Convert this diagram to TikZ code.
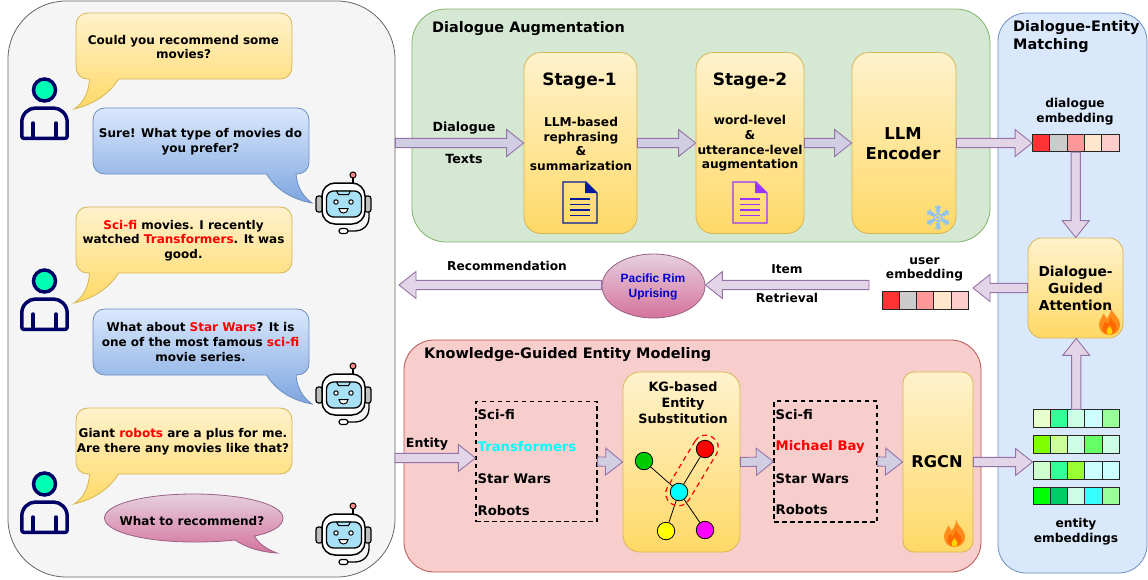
\documentclass[tikz,border=0pt]{standalone}
\usepackage{fontspec}
\setmainfont{DejaVu Sans}
\newfontfamily\liberation{Liberation Sans}
\usetikzlibrary{calc,shapes.geometric}
\definecolor{yTop}{HTML}{FFF2CC}\definecolor{yBot}{HTML}{FFD966}\definecolor{yLine}{HTML}{D6B656}
\definecolor{bTop}{HTML}{DAE8FC}\definecolor{bBot}{HTML}{7EA6E0}\definecolor{bLine}{HTML}{6C8EBF}
\definecolor{pTop}{HTML}{E6D0DE}\definecolor{pBot}{HTML}{D5739D}\definecolor{pLine}{HTML}{996185}
\definecolor{grFill}{HTML}{D5E8D4}\definecolor{grLine}{HTML}{82B366}
\definecolor{rdFill}{HTML}{F8CECC}\definecolor{rdLine}{HTML}{B85450}
\definecolor{chFill}{HTML}{F5F5F5}\definecolor{chLine}{HTML}{666666}
\definecolor{arA}{HTML}{E1D5E7}\definecolor{arB}{HTML}{D0CEE2}\definecolor{arLine}{HTML}{9673A6}
\definecolor{navy}{HTML}{000066}\definecolor{mint}{HTML}{00FFB3}
\definecolor{docBlue}{HTML}{001A99}\definecolor{docPurple}{HTML}{9933FF}
\definecolor{snow}{HTML}{8FC3F2}\definecolor{faceC}{HTML}{A8E0F5}
\definecolor{pureRed}{HTML}{FF0000}\definecolor{pureCyan}{HTML}{00FFFF}\definecolor{pureGreen}{HTML}{00CC00}
\definecolor{pureYellow}{HTML}{FFFF00}\definecolor{pureMagenta}{HTML}{FF00FF}\definecolor{pureBlue}{HTML}{0000CC}
\definecolor{flameA}{HTML}{FF8C1A}\definecolor{flameB}{HTML}{FF6A00}\definecolor{flameC}{HTML}{FFD500}
\tikzset{
  panel/.style={draw,line width=0.8pt,inner sep=0pt},
  gradbox/.style={draw=yLine,top color=yTop,bottom color=yBot,line width=0.8pt,inner sep=0pt},
  yellowb/.style={draw=yLine,top color=yTop,bottom color=yBot,line width=0.8pt},
  blueb/.style={draw=bLine,top color=bTop,bottom color=bBot,line width=0.8pt},
  pinkb/.style={draw=pLine,top color=pTop,bottom color=pBot,line width=0.8pt},
  arrowA/.style={draw=arLine,fill=arA,line width=0.9pt},
  arrowB/.style={draw=arLine,fill=arB,line width=0.9pt},
  chat/.style={font=\fontsize{12}{14.7}\selectfont\bfseries,align=center,inner sep=0pt},
  lab/.style={font=\fontsize{12.2}{14.7}\selectfont\bfseries,align=center,inner sep=0pt},
  ttl/.style={font=\fontsize{14.45}{18}\selectfont\bfseries,align=left,anchor=west,inner sep=0pt},
  big/.style={font=\fontsize{16.8}{20}\selectfont\bfseries,align=center,inner sep=0pt},
  ent/.style={font=\fontsize{13.2}{15}\selectfont\bfseries,anchor=west,inner sep=0pt},
  cell/.style={draw=black!85,line width=0.9pt,minimum width=17.3pt,minimum height=17.3pt,inner sep=0pt},
  gnode/.style={circle,draw=black,line width=0.8pt,minimum size=17.5pt,inner sep=0pt},
  gedge/.style={draw=black,line width=0.8pt},
  dashbox/.style={draw=black,line width=1.3pt,dash pattern=on 4.5pt off 3.5pt,inner sep=0pt},
  pics/personpic/.style={code={
    \draw[navy,line width=3.5pt,fill=mint] (0,0) circle[radius=11pt];
    \draw[navy,line width=3.5pt,line join=round] (-20.7,48.3) -- (20.7,48.3) .. controls (22,48.3) and (22.7,47.5) .. (22.7,46) -- (22.7,32) .. controls (22.7,24) and (16,18) .. (9,18) -- (-9,18) .. controls (-16,18) and (-22.7,24) .. (-22.7,32) -- (-22.7,46) .. controls (-22.7,47.5) and (-22,48.3) .. (-20.7,48.3) -- cycle;
    \draw[navy,line width=3.5pt,line cap=round] (-11.5,33) -- (-11.5,48) (11.5,33) -- (11.5,48);
  }},
  pics/robotpic/.style={code={
    \draw[black,line width=1.2pt,fill=black!25,rounded corners=2.5pt] (-27.5,-7) rectangle (-21,9);
    \draw[black,line width=1.2pt,fill=black!25,rounded corners=2.5pt] (21,-7) rectangle (27.5,9);
    \draw[black,line width=1.3pt] (9.5,-20) -- (9.5,-28);
    \draw[black,line width=1pt,fill=pureRed!45] (9.5,-28) circle[radius=3pt];
    \draw[black,line width=1.5pt,fill=white,rounded corners=13pt] (-21.5,-20) rectangle (21.5,21);
    \draw[black,line width=1.3pt,fill=faceC,rounded corners=7pt] (-17,-12) rectangle (18,14);
    \draw[black,line width=1pt,fill=faceC] (-7,-12) -- (7,-12) -- (5,-8.5) -- (-5,-8.5) -- cycle;
    \draw[black,line width=1pt,fill=white] (-7.5,-1) circle[radius=2.2pt] (7.5,-1) circle[radius=2.2pt];
    \draw[black,line width=1pt,fill=white] (-4.5,5.5) -- (4.5,5.5) .. controls (4.5,11.5) and (-4.5,11.5) .. (-4.5,5.5) -- cycle;
    \draw[black,line width=1.3pt] (25.5,9) -- (25.5,14) .. controls (25.5,23) and (19,28) .. (11,28) -- (4.5,28);
    \draw[black,line width=1.2pt,fill=white,rounded corners=2.5pt] (-4.5,25.5) rectangle (4.5,30.5);
  }},
  pics/docpic/.style={code={
    \draw[#1,line width=1.4pt,line join=miter] (0,0) -- (23,0) -- (34,11) -- (34,41) -- (0,41) -- cycle;
    \fill[#1] (22,0) -- (34,11) -- (22,11) -- cycle;
    \foreach \yy in {17,22.5,28,33.5} {\draw[#1,line width=1.5pt] (7.3,\yy) -- (27,\yy);}
  }},
  pics/flamepic/.style={code={
    \fill[flameA] (1.5,-14) .. controls (2,-8) and (10.5,-5) .. (10.5,4) .. controls (10.5,10) and (5,13.5) .. (0,13.5) .. controls (-6,13.5) and (-10.5,9.5) .. (-10.5,3) .. controls (-10.5,-2) and (-7,-4) .. (-6,-8) .. controls (-4.5,-6) and (-3.5,-4.5) .. (-3,-2.5) .. controls (-0.5,-6) and (2,-10) .. (1.5,-14) -- cycle;
    \fill[flameB] (1,-4) .. controls (2,-1) and (7,1) .. (7,6) .. controls (7,10.5) and (3,13) .. (0,13) .. controls (-4,13) and (-7,10) .. (-7,6) .. controls (-7,3) and (-5,2) .. (-4,0) .. controls (-3,1) and (-2.5,2) .. (-2,3) .. controls (-1,1) and (0.5,-1) .. (1,-4) -- cycle;
    \fill[flameC] (0,4.5) .. controls (1,6.5) and (3,8) .. (3,10) .. controls (3,12) and (1.5,13) .. (0,13) .. controls (-1.5,13) and (-3,12) .. (-3,10) .. controls (-3,8) and (-1,6.5) .. (0,4.5) -- cycle;
  }},
  pics/snowpic/.style={code={
    \foreach \aa in {30,90,...,330} {
      \begin{scope}[rotate=\aa]
        \draw[snow,line width=2pt] (4,0) -- (12.5,0);
        \draw[snow,line width=1.5pt] (8,0) -- (11,2.8) (8,0) -- (11,-2.8) (5.5,0) -- (7.5,2) (5.5,0) -- (7.5,-2);
      \end{scope}
    }
    \draw[snow,line width=1.5pt] (0,0) circle[radius=4pt];
    \draw[snow,line width=1pt] (0,0) circle[radius=1.6pt];
  }},
}
% block arrow between two named points
\newcommand{\barrow}[3]{%
  \coordinate (bafrom) at (#2);
  \coordinate (bato) at (#3);
  \coordinate (baneck) at ($(bato)!17pt!(bafrom)$);
  \path[#1] ($(bafrom)!4.6pt!90:(bato)$) -- ($(baneck)!4.6pt!90:(bato)$) -- ($(baneck)!13.5pt!90:(bato)$) -- (bato) -- ($(baneck)!13.5pt!-90:(bato)$) -- ($(baneck)!4.6pt!-90:(bato)$) -- ($(bafrom)!4.6pt!-90:(bato)$) -- cycle;}
% yellow bubble: top y
\newcommand{\ybubble}[1]{%
  \begin{scope}[shift={(0,#1)}]
  \path[yellowb] (88,0) -- (280,0) .. controls (287,0) and (292,5) .. (292,12) -- (292,54) .. controls (292,61) and (287,66) .. (280,66) -- (118.5,66) .. controls (110,80) and (95,91) .. (74,96) .. controls (84,90) and (89,78) .. (89.5,66) -- (88,66) .. controls (81,66) and (76,61) .. (76,54) -- (76,12) .. controls (76,5) and (81,0) .. (88,0) -- cycle;
  \end{scope}}
\newcommand{\bbubble}[1]{%
  \begin{scope}[shift={(0,#1)}]
  \path[blueb] (105,0) -- (297,0) .. controls (304,0) and (309,5) .. (309,12) -- (309,54) .. controls (309,61) and (304,66) .. (297,66) -- (296,66) .. controls (297,78) and (302,88) .. (312,95) .. controls (290,91) and (275,80) .. (266.5,66) -- (105,66) .. controls (98,66) and (93,61) .. (93,54) -- (93,12) .. controls (93,5) and (98,0) .. (105,0) -- cycle;
  \end{scope}}
\newcommand{\emstrip}[8]{% name, x-left, y-center, c1..c5
  \node[cell,fill=#4] (#1a) at (#2+8.65,#3) {};
  \node[cell,fill=#5] (#1b) at (#2+25.95,#3) {};
  \node[cell,fill=#6] (#1c) at (#2+43.25,#3) {};
  \node[cell,fill=#7] (#1d) at (#2+60.55,#3) {};
  \node[cell,fill=#8] (#1e) at (#2+77.85,#3) {};}
\definecolor{e1}{HTML}{FF3333}\definecolor{e2}{HTML}{CCCCCC}\definecolor{e3}{HTML}{FF9999}\definecolor{e4}{HTML}{FFE6CC}\definecolor{e5}{HTML}{FFCCCC}
\definecolor{g1}{HTML}{E6FFCC}\definecolor{g2}{HTML}{33FF99}\definecolor{g3}{HTML}{CCFFE6}\definecolor{g4}{HTML}{CCFFFF}\definecolor{g5}{HTML}{99FF99}
\definecolor{g6}{HTML}{80FF00}\definecolor{g7}{HTML}{CCFF99}\definecolor{g8}{HTML}{66FF66}\definecolor{g9}{HTML}{CCFFCC}\definecolor{g10}{HTML}{99FF33}
\definecolor{g11}{HTML}{00FF00}\definecolor{g12}{HTML}{00CC66}\definecolor{g13}{HTML}{33FFFF}
\begin{document}
\begin{tikzpicture}[x=1pt,y=-1pt]
\path[use as bounding box,fill=white] (0,0) rectangle (1148,579);
% panels
\node[panel,draw=chLine,fill=chFill,rounded corners=58pt,minimum width=387pt,minimum height=576pt] (chatp) at (201.5,289) {};
\node[panel,draw=grLine,fill=grFill,rounded corners=34pt,minimum width=578pt,minimum height=233pt] (augp) at (701,125.5) {};
\node[panel,draw=bLine,fill=bTop,rounded corners=28pt,minimum width=149pt,minimum height=560pt] (matchp) at (1072.5,293) {};
\node[panel,draw=rdLine,fill=rdFill,rounded corners=30pt,minimum width=577pt,minimum height=232pt] (kgp) at (692.5,456) {};
% boxes
\node[gradbox,rounded corners=17pt,minimum width=113pt,minimum height=181pt] (st1) at (580.5,143) {};
\node[gradbox,rounded corners=17pt,minimum width=108pt,minimum height=181pt] (st2) at (750,143) {};
\node[gradbox,rounded corners=17pt,minimum width=104pt,minimum height=181pt] (enc) at (904,143) {};
\node[gradbox,rounded corners=14pt,minimum width=95pt,minimum height=100pt] (dga) at (1075.5,288) {};
\node[gradbox,rounded corners=17pt,minimum width=117pt,minimum height=180pt] (kgs) at (681.5,462) {};
\node[gradbox,rounded corners=11pt,minimum width=70pt,minimum height=180pt] (rgcn) at (938,462) {};
\node[dashbox,minimum width=121pt,minimum height=120pt] (box1) at (536.5,461.5) {};
\node[dashbox,minimum width=103pt,minimum height=121pt] (box2) at (825.5,461.5) {};
% ellipse
\node[pinkb,shape=ellipse,minimum width=103pt,minimum height=64pt,inner sep=0pt] (item) at (653.5,286) {};
% embeddings
\emstrip{de}{1032.5}{143}{e1}{e2}{e3}{e4}{e5}
\emstrip{ue}{882}{300.5}{e1}{e2}{e3}{e4}{e5}
\emstrip{ra}{1033}{418.5}{g1}{g2}{g3}{g4}{g5}
\emstrip{rb}{1033}{444.5}{g6}{g7}{g3}{g8}{g3}
\emstrip{rc}{1033}{470.5}{g9}{g2}{g10}{g4}{g4}
\emstrip{rd}{1033}{496}{g11}{g12}{g3}{g13}{g5}
% free arrow ends
\coordinate (dlgstart) at (chatp.east |- st1.west);
\coordinate (entstart) at (395,458);
\coordinate (itemstart) at (869,285);
\coordinate (itemtip) at (item.east);
\coordinate (usertip) at (973,288);
\coordinate (rectip) at (399,285);
% arrows
\barrow{arrowB}{dlgstart}{st1.west}
\barrow{arrowB}{st1.east}{st2.west}
\barrow{arrowB}{st2.east}{enc.west}
\barrow{arrowA}{enc.east}{dea.west}
\barrow{arrowA}{dec.south}{dga.north -| dec.south}
\barrow{arrowA}{dga.west}{usertip}
\barrow{arrowA}{itemstart}{itemtip |- itemstart}
\barrow{arrowA}{item.west |- itemstart}{rectip}
\barrow{arrowA}{entstart}{box1.west |- entstart}
\barrow{arrowB}{box1.east}{kgs.west}
\barrow{arrowB}{kgs.east}{box2.west}
\barrow{arrowB}{box2.east}{rgcn.west}
\barrow{arrowA}{rgcn.east}{rca.west |- rgcn.east}
\barrow{arrowA}{rac.north}{dga.south -| rac.north}
% bubbles
\ybubble{13}
\bbubble{108}
\ybubble{207}
\bbubble{309}
\ybubble{408}
\path[pinkb] (104.5,518) .. controls (104.5,504) and (145,494) .. (193.5,494) .. controls (242,494) and (283,504) .. (283,518) .. controls (283,527) and (270,533) .. (254.5,536) .. controls (258,543) and (266,549) .. (277,553) .. controls (260,552) and (245,547) .. (235,540) .. controls (222,541.5) and (208,542) .. (193.5,542) .. controls (145,542) and (104.5,532) .. (104.5,518) -- cycle;
% chat text
\node[chat] (c1) at (183.5,47) {Could you recommend some\\movies?};
\node[chat] (c2) at (200.5,141.5) {Sure! What type of movies do\\you prefer?};
\node[chat] (c3) at (183.5,240.5) {\textcolor{pureRed}{Sci-fi} movies. I recently\\watched \textcolor{pureRed}{Transformers}. It was\\good.};
\node[chat] (c4) at (200.5,342) {What about \textcolor{pureRed}{Star Wars}? It is\\one of the most famous \textcolor{pureRed}{sci-fi}\\movie series.};
\node[chat] (c5) at (183,441.5) {Giant \textcolor{pureRed}{robots} are a plus for me.\\Are there any movies like that?};
\node[chat] (c6) at (192,521) {What to recommend?};
% people and robots
\pic at (44.5,90) {personpic};
\pic at (44.5,281) {personpic};
\pic at (44.5,484) {personpic};
\pic at (343.5,203) {robotpic};
\pic at (343.5,394) {robotpic};
\pic at (343.5,534) {robotpic};
% titles
\node[ttl] (t1) at (432,28.5) {Dialogue Augmentation};
\node[ttl] (t2) at (424,354.5) {Knowledge-Guided Entity Modeling};
\node[ttl] (t3) at (1013,36.5) {Dialogue-Entity\\Matching};
% labels
\node[lab,font=\fontsize{12.6}{15}\selectfont\bfseries] (l1) at (464,128) {Dialogue};
\node[lab,font=\fontsize{12.6}{15}\selectfont\bfseries] (l2) at (464,158.5) {Texts};
\node[big,font=\fontsize{17}{20}\selectfont\bfseries] (l3) at (579.5,81.5) {Stage-1};
\node[big,font=\fontsize{17}{20}\selectfont\bfseries] (l4) at (750,81.5) {Stage-2};
\node[lab] (l5) at (581,144) {LLM-based\\rephrasing\\\&\\summarization};
\node[lab] (l6) at (750,143.5) {word-level\\\&\\utterance-level\\augmentation};
\node[big,font=\fontsize{16.4}{20}\selectfont\bfseries] (l7) at (903,144) {LLM\\Encoder};
\node[lab] (l8) at (1075,111.5) {dialogue\\embedding};
\node[lab,font=\fontsize{13.7}{17}\selectfont\bfseries] (l9) at (1075.5,288.5) {Dialogue-\\Guided\\Attention};
\node[lab] (l10) at (924.5,269.5) {user\\embedding};
\node[lab] (l11) at (507,266) {Recommendation};
\node[lab] (l12) at (787,269.5) {Item};
\node[lab] (l13) at (787,298) {Retrieval};
\node[lab,text=pureBlue,font=\fontsize{12}{15}\selectfont\liberation\bfseries] (l14) at (653,287) {Pacific Rim\\Uprising};
\node[lab,font=\fontsize{12.6}{15}\selectfont\bfseries] (l15) at (427,444) {Entity};
\node[lab,font=\fontsize{12.8}{16}\selectfont\bfseries] (l16) at (683,402.5) {KG-based\\Entity\\Substitution};
\node[big,font=\fontsize{16.2}{20}\selectfont\bfseries] (l17) at (937,461.5) {RGCN};
\node[lab] (l18) at (1076,531.5) {entity\\embeddings};
% entity lists
\node[ent] (a1) at (477.5,414.5) {Sci-fi};
\node[ent,text=pureCyan] (a2) at (477.5,446.5) {Transformers};
\node[ent] (a3) at (477.5,478.5) {Star Wars};
\node[ent] (a4) at (477.5,510.5) {Robots};
\node[ent] (b1) at (775.5,414.5) {Sci-fi};
\node[ent,text=pureRed] (b2) at (775.5,447) {Michael Bay};
\node[ent] (b3) at (775.5,478.5) {Star Wars};
\node[ent] (b4) at (775.5,510) {Robots};
% graph
\coordinate (gm) at (692,470.5);
\node[gnode,fill=pureGreen] (ng) at (644,461) {};
\node[gnode,fill=pureRed] (nr) at (705,449) {};
\node[gnode,fill=pureCyan] (nc) at (679,492) {};
\node[gnode,fill=pureYellow] (ny) at (666,531) {};
\node[gnode,fill=pureMagenta] (nm) at (705,530) {};
\draw[gedge] (ng) -- (nc);
\draw[gedge] (nr) -- (nc);
\draw[gedge] (ny) -- (nc);
\draw[gedge] (nm) -- (nc);
\node[draw=pureRed,line width=1.2pt,dash pattern=on 5pt off 4pt,rounded corners=12pt,minimum width=78pt,minimum height=25pt,inner sep=0pt,rotate=59] (sel) at (gm) {};
% icons
\pic at (563,182) {docpic=docBlue};
\pic at (733,182) {docpic=docPurple};
\pic at (938,217.5) {snowpic};
\pic at (1109.5,321.5) {flamepic};
\pic at (954.5,533.5) {flamepic};
\end{tikzpicture}
\end{document}
